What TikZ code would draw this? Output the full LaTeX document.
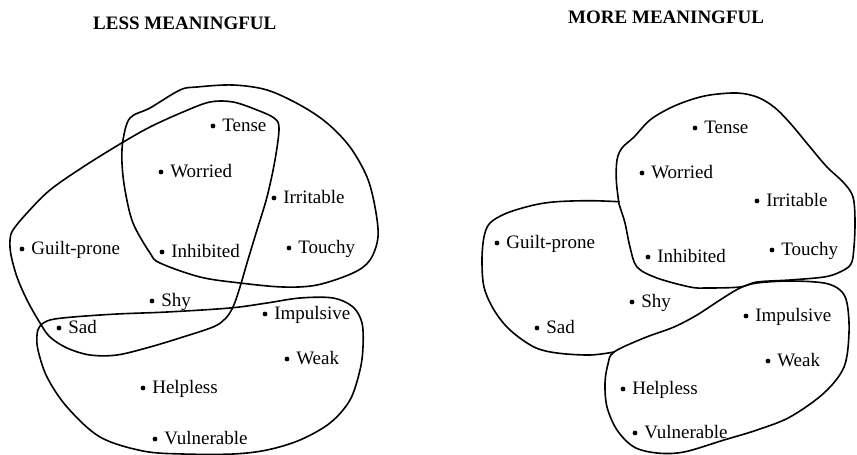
\documentclass[tikz,border=0pt]{standalone}
\usepackage{fontspec}
\setmainfont{Liberation Serif}
\begin{document}
\begin{tikzpicture}[x=1pt,y=-1pt,
  blob/.style={draw, line width=1.6pt, line join=round, line cap=round},
  dotn/.style={circle, fill=black, inner sep=0pt, minimum size=4.8pt},
  lab/.style={font=\fontsize{19}{21}\selectfont, inner sep=0pt, text height=13pt, text depth=2pt},
  ttl/.style={font=\bfseries\fontsize{19}{21}\selectfont, inner sep=0pt, anchor=base west},
  label distance=6.5pt]
\useasboundingbox (0,0) rectangle (857,455);
\newcommand\wrd[4]{\node[dotn,label={[lab]right:#4}] (#1) at (#2,#3) {};}

% titles
\node[ttl] (tless) at (93,29) {LESS MEANINGFUL};
\node[ttl] (tmore) at (568,23.5) {MORE MEANINGFUL};

% ---------- left panel ----------
\draw[blob] plot[smooth cycle, tension=0.55] coordinates {
 (130,118) (150,108) (180,90) (197,87) (233,85) (267,90) (300,105) (327,123)
 (350,147) (367,177) (375,207) (378,237) (370,260) (353,273) (317,285) (283,287)
 (240,283) (200,277) (160,263) (150,253) (133,223) (125,190) (122,163) (123,140)};
\draw[blob] plot[smooth cycle, tension=0.55] coordinates {
 (13,230) (27,213) (50,190) (83,167) (120,144) (150,127) (183,112) (210,102)
 (233,102) (257,110) (274,118) (279,128) (275,160) (267,197) (257,230) (247,263)
 (240,287) (233,307) (225,319) (213,327) (183,337) (150,347) (117,355) (90,355)
 (67,348) (50,337) (40,323) (27,300) (17,277) (11,255) (10,240)};
\draw[blob] plot[smooth cycle, tension=0.55] coordinates {
 (40,326) (50,320) (73,317) (117,314) (167,312) (230,308) (267,303) (300,298)
 (333,298) (353,307) (362,323) (363,347) (360,370) (350,400) (330,423) (300,440)
 (267,450) (233,454) (183,454) (143,451) (100,437) (67,407) (47,377) (38,350) (37,335)};

\wrd{lTense}{213}{126}{Tense}
\wrd{lWorried}{161}{172}{Worried}
\wrd{lIrritable}{274}{198}{Irritable}
\wrd{lGuilt}{22}{249}{Guilt-prone}
\wrd{lInhibited}{162}{252}{Inhibited}
\wrd{lTouchy}{289}{248}{Touchy}
\wrd{lShy}{152}{301}{Shy}
\wrd{lSad}{59}{328}{Sad}
\wrd{lImpulsive}{265}{314}{Impulsive}
\wrd{lWeak}{287}{359}{Weak}
\wrd{lHelpless}{143}{388}{Helpless}
\wrd{lVulnerable}{155}{439}{Vulnerable}

% ---------- right panel ----------
\draw[blob] plot[smooth cycle, tension=0.55] coordinates {
 (618.7,201.7) (616.3,180) (617,160) (622,148) (634,137) (650,120) (670,108)
 (690,100) (710,95) (737,93) (757,97) (774,107) (790,123) (810,147) (827,167)
 (844,183) (853,197) (855,220) (854,247) (851,264) (840,272) (824,277)
 (790,280) (757,282) (740,287) (707,288) (690,287) (657,278) (637,267)
 (630,247) (625,223) (620,207)};
\draw[blob] plot[smooth, tension=0.55] coordinates {
 (619,201.7) (590,200.7) (557,201.7) (534,205) (507,213) (490,223) (484,237)
 (482,260) (484,287) (494,310) (510,330) (534,347) (557,353) (590,355) (614,352)};
\draw[blob] plot[smooth cycle, tension=0.55] coordinates {
 (614,352) (644,338) (674,327) (697,315) (720,300) (740,288) (757,283) (790,281)
 (824,283) (840,290) (847,303) (849,333) (844,367) (824,393) (790,417) (757,430)
 (724,440) (684,452) (657,453) (634,447) (617,430) (607,407) (605,383) (608,364)};

\wrd{rTense}{695}{128}{Tense}
\wrd{rWorried}{642}{173}{Worried}
\wrd{rIrritable}{757}{201}{Irritable}
\wrd{rGuilt}{497}{243}{Guilt-prone}
\wrd{rInhibited}{648}{257}{Inhibited}
\wrd{rTouchy}{772}{250}{Touchy}
\wrd{rShy}{632}{302}{Shy}
\wrd{rSad}{537}{328}{Sad}
\wrd{rImpulsive}{746}{316}{Impulsive}
\wrd{rWeak}{768}{361}{Weak}
\wrd{rHelpless}{623}{389}{Helpless}
\wrd{rVulnerable}{635}{433}{Vulnerable}
\end{tikzpicture}
\end{document}
